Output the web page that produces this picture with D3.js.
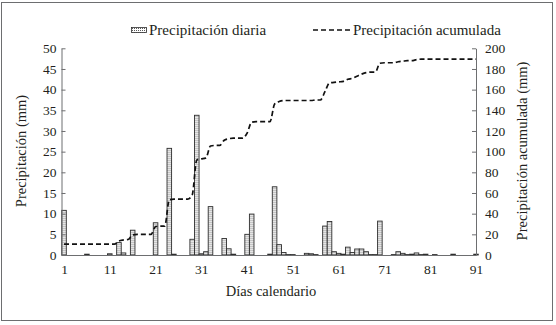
<!DOCTYPE html>
<html>
<head>
<meta charset="utf-8">
<script src="https://cdn.jsdelivr.net/npm/d3@7"></script>
<style>
  body { margin: 0; background: #fff; }
  text { font-family: "Liberation Serif", "DejaVu Serif", serif; fill: #231f20; }
</style>
</head>
<body>
<script>
// daily precipitation (mm), day 1..91
var days = d3.range(1, 92);
var diaria = [
  10.8, 0, 0, 0, 0, 0.2, 0, 0, 0, 0,
  0.3, 0, 3.0, 0.5, 0, 6.0, 0, 0, 0, 0,
  7.8, 0, 0, 25.8, 0.2, 0, 0, 0, 3.8, 33.8,
  0.3, 0.8, 11.7, 0, 0, 4.0, 1.5, 0.2, 0, 0,
  5.0, 9.9, 0, 0, 0, 0.2, 16.5, 2.5, 0.6, 0.1,
  0.1, 0, 0, 0.4, 0.3, 0.1, 0, 7.0, 8.1, 0.8,
  0.4, 0.2, 1.9, 0.6, 1.45, 1.45, 0.8, 0.1, 0.1, 8.2,
  0, 0, 0.1, 0.8, 0.4, 0.1, 0.2, 0.5, 0.1, 0.2,
  0, 0.1, 0, 0, 0, 0.2, 0, 0, 0, 0,
  0.2
];
// accumulated precipitation (mm)
var acumulada = [
  10.5, 10.5, 10.5, 10.5, 10.5, 10.5, 10.5, 10.5, 10.5, 10.5,
  10.5, 10.5, 13.5, 14.5, 15, 19.5, 20, 20, 20, 20,
  27.5, 28, 28, 53.5, 54, 54, 54, 54, 58, 92,
  93, 94, 105.5, 106, 106, 111, 112.5, 113, 113, 113,
  118, 128.5, 129, 129, 129, 129, 146, 148.5, 149.5, 149.5,
  149.5, 149.5, 149.5, 149.5, 149.5, 150, 150, 158, 166.5, 167,
  167.5, 168, 170, 171, 173, 175, 176.5, 177, 177, 185.5,
  186, 186, 186, 187, 187.5, 188, 188, 189, 189.5, 189.5,
  189.5, 189.5, 189.5, 189.5, 189.5, 189.5, 189.5, 189.5, 189.5, 189.5,
  189.5
];
var xTicks = [1, 11, 21, 31, 41, 51, 61, 71, 81, 91];
var yLeftTicks = d3.range(0, 55, 5);
var yRightTicks = d3.range(0, 220, 20);

var W = 556, H = 325;
var margin = { top: 48.3, left: 61.5 },
  width = 414.5,
  height = 206.7;

var svg = d3.select("body").append("svg")
  .attr("width", W)
  .attr("height", H);

// outer frame
svg.append("rect")
  .attr("x", 1.5).attr("y", 2.5)
  .attr("width", 551).attr("height", 318)
  .attr("fill", "none").attr("stroke", "#6d6e70").attr("stroke-width", 1);

// dotted fill for the bars
var pat = svg.append("defs").append("pattern")
  .attr("id", "dots")
  .attr("patternUnits", "userSpaceOnUse")
  .attr("width", 2).attr("height", 2);
pat.append("rect").attr("width", 2).attr("height", 2).attr("fill", "#fff");
pat.append("rect").attr("width", 1).attr("height", 1).attr("fill", "#5a5a5a");

var g = svg.append("g")
  .attr("transform", "translate(" + margin.left + "," + margin.top + ")");

var x = d3.scaleLinear().domain([0.45, 91]).range([0, width]);
var y = d3.scaleLinear().domain([0, 50]).range([height, 0]);
var y2 = d3.scaleLinear().domain([0, 200]).range([height, 0]);
var bw = x(2) - x(1);

// bars
g.append("g")
  .selectAll("rect")
  .data(days.filter(function (d, i) { return diaria[i] > 0; }))
  .enter()
  .append("rect")
  .attr("x", function (d) { return x(d) - bw / 2; })
  .attr("y", function (d) { return y(diaria[d - 1]); })
  .attr("width", bw)
  .attr("height", function (d) { return height - y(diaria[d - 1]); })
  .attr("fill", "url(#dots)")
  .attr("stroke", "#2e2e2e")
  .attr("stroke-width", 0.9);

// accumulated line
var line = d3.line()
  .x(function (d) { return x(d); })
  .y(function (d) { return y2(acumulada[d - 1]); })
  .curve(d3.curveMonotoneX);
g.append("path")
  .datum(days)
  .attr("d", line)
  .attr("fill", "none")
  .attr("stroke", "#111")
  .attr("stroke-width", 1.7)
  .attr("stroke-dasharray", "5,3");

// axes
var fs = "13.5px";
var ax = g.append("g")
  .attr("transform", "translate(0," + height + ")")
  .call(d3.axisBottom(x).tickValues(xTicks).tickSize(0).tickPadding(9));
var ayl = g.append("g")
  .call(d3.axisLeft(y).tickValues(yLeftTicks).tickSizeInner(-4).tickSizeOuter(0).tickPadding(5));
var ayr = g.append("g")
  .attr("transform", "translate(" + width + ",0)")
  .call(d3.axisRight(y2).tickValues(yRightTicks).tickSizeInner(-4).tickSizeOuter(0).tickPadding(9));
[ax, ayl, ayr].forEach(function (a) {
  a.selectAll("text").style("font-size", fs);
  a.selectAll("path, line").attr("stroke", "#6d6e70");
  a.attr("font-family", null);
});

// axis titles
svg.append("text")
  .attr("x", 271).attr("y", 296)
  .attr("text-anchor", "middle")
  .style("font-size", "14.5px")
  .text("Días calendario");
svg.append("text")
  .attr("transform", "translate(26,151) rotate(-90)")
  .attr("text-anchor", "middle")
  .style("font-size", "14.5px")
  .text("Precipitación (mm)");
svg.append("text")
  .attr("transform", "translate(527,151) rotate(-90)")
  .attr("text-anchor", "middle")
  .style("font-size", "14.5px")
  .text("Precipitación acumulada (mm)");

// legend
svg.append("rect")
  .attr("x", 131.5).attr("y", 27.5)
  .attr("width", 15).attr("height", 5)
  .attr("fill", "url(#dots)").attr("stroke", "#2e2e2e").attr("stroke-width", 0.8);
svg.append("text")
  .attr("x", 149).attr("y", 35)
  .style("font-size", "15px")
  .text("Precipitación diaria");
svg.append("line")
  .attr("x1", 313).attr("x2", 350).attr("y1", 30).attr("y2", 30)
  .attr("stroke", "#111").attr("stroke-width", 1.7).attr("stroke-dasharray", "5,3");
svg.append("text")
  .attr("x", 353).attr("y", 35)
  .style("font-size", "15px")
  .text("Precipitación acumulada");
</script>
</body>
</html>
